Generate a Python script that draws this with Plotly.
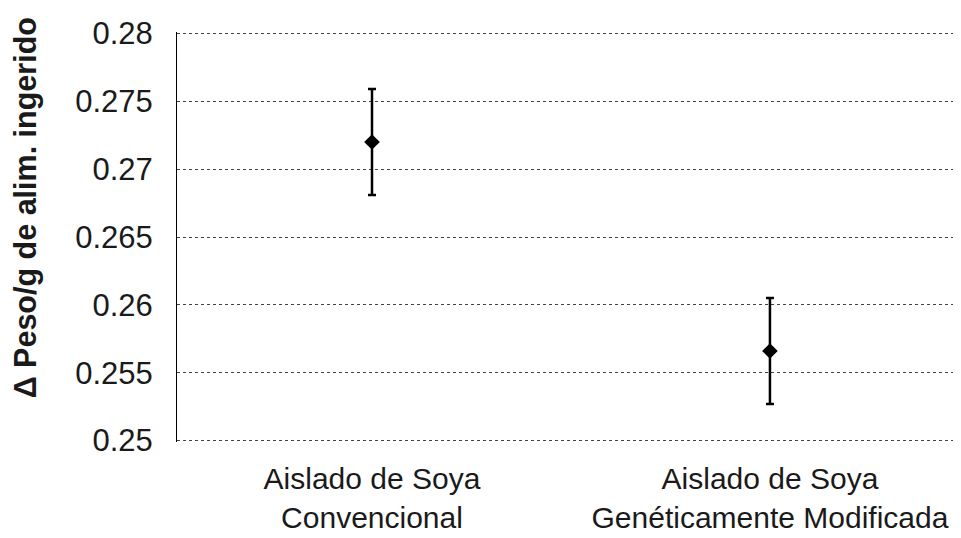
import plotly.graph_objects as go

categories = ["Aislado de Soya<br>Convencional", "Aislado de Soya<br>Genéticamente Modificada"]
means = [0.2720, 0.2566]
errors = [0.0039, 0.0039]
tick_vals = [0.25, 0.255, 0.26, 0.265, 0.27, 0.275, 0.28]
tick_text = ["0.25", "0.255", "0.26", "0.265", "0.27", "0.275", "0.28"]
y_title = "Δ Peso/g de alim. ingerido"

fig = go.Figure()
fig.add_trace(go.Scatter(
    x=categories, y=means, mode="markers",
    marker=dict(symbol="diamond", size=12, color="black"),
    error_y=dict(type="data", array=errors, visible=True, color="black", thickness=2.5, width=4),
    showlegend=False,
))

fig.update_layout(
    width=961, height=538,
    margin=dict(l=169, r=14, t=24, b=104),
    plot_bgcolor="white", paper_bgcolor="white",
    font=dict(family="Liberation Sans, Arial, sans-serif", color="#1a1a1a"),
)
fig.add_annotation(
    text="<b>" + y_title + "</b>", textangle=-90,
    xref="paper", yref="paper", x=0, y=0.57, xshift=-152,
    xanchor="center", yanchor="middle", showarrow=False,
    font=dict(size=30.5, color="#1a1a1a"),
)
fig.update_xaxes(
    type="category", range=[-0.49, 1.465], showgrid=False, showline=False, zeroline=False,
    tickfont=dict(size=30, color="#1a1a1a"), ticks="", ticklabelstandoff=16,
    automargin=False,
)
fig.update_yaxes(
    range=[0.2499, 0.2801], tickvals=tick_vals, ticktext=tick_text,
    tickfont=dict(size=31, color="#1a1a1a"),
    showgrid=True, gridcolor="#444", griddash="dot", gridwidth=1,
    showline=True, linecolor="black", linewidth=1,
    zeroline=False, ticks="", ticklabelstandoff=17,
    automargin=False,
)
fig.write_html("out.html")
